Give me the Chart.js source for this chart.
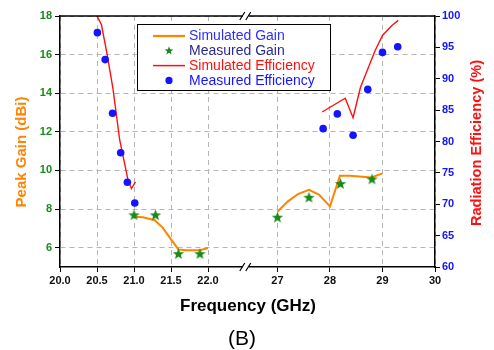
<!DOCTYPE html>
<html>
<head>
<meta charset="utf-8">
<script src="https://cdn.jsdelivr.net/npm/chart.js@4.4.1/dist/chart.umd.min.js"></script>
<style>
  body { margin: 0; background: #fff; }
  canvas { display: block; }
</style>
</head>
<body>
<canvas id="myChart" width="494" height="350"></canvas>
<script>
// x axis is broken: 20-22 GHz, then 27-30 GHz
const xTickFreqs = [20, 20.5, 21, 21.5, 22, 27, 28, 29, 30];
const xTickLabels = ["20.0", "20.5", "21.0", "21.5", "22.0", "27", "28", "29", "30"];
const gainTicks = [6, 8, 10, 12, 14, 16, 18];
const effTicks = [60, 65, 70, 75, 80, 85, 90, 95, 100];

// simulated gain (dBi)
const simGainFreqLow = [20.99, 21.12, 21.28, 21.39, 21.5, 21.6, 21.71, 21.89, 22.0];
const simGainLow = [7.6, 7.58, 7.42, 7.03, 6.43, 5.91, 5.87, 5.87, 5.98];
const simGainFreqHigh = [27.0, 27.2, 27.39, 27.6, 27.79, 28.0, 28.19, 28.38, 28.79, 29.0];
const simGainHigh = [7.86, 8.4, 8.78, 9.0, 8.75, 8.14, 9.73, 9.73, 9.64, 9.85];

// measured gain (dBi)
const measGainFreq = [21.0, 21.29, 21.6, 21.89, 27.0, 27.6, 28.2, 28.8];
const measGain = [7.7, 7.7, 5.69, 5.69, 7.58, 8.61, 9.32, 9.56];

// simulated efficiency (%)
const simEffFreqLow = [20.5, 20.56, 20.635, 20.716, 20.807, 20.92, 20.965, 21.02];
const simEffLow = [100, 98.6, 94.0, 88.4, 80.2, 73.8, 72.5, 73.55];
const simEffFreqHigh = [27.85, 28.29, 28.44, 28.58, 28.86, 29.0, 29.18, 29.3];
const simEffHigh = [84.7, 86.9, 83.8, 88.6, 94.5, 96.9, 98.5, 99.3];

// measured efficiency (%)
const measEffFreq = [20.505, 20.61, 20.71, 20.82, 20.91, 21.01, 27.87, 28.14, 28.44, 28.72, 29.0, 29.29];
const measEff = [97.35, 93.05, 84.5, 78.2, 73.5, 70.2, 82.05, 84.4, 81.0, 88.3, 94.2, 95.1];

// frequency -> position on the broken axis
const BREAK_POS = 22.51;
function toAxis(f) {
  if (f <= 22) return f;
  return 22.938 + (f - 27) * 0.7095;
}
function pts(freqs, vals) {
  return freqs.map((f, i) => ({ x: toAxis(f), y: vals[i] }));
}
function twoParts(fA, vA, fB, vB) {
  return pts(fA, vA).concat([{ x: BREAK_POS, y: null }], pts(fB, vB));
}

const ORANGE = "#ff8400";
const RED = "#ff1010";
const GREEN = "#1a8a1a";
const BLUE = "#1414ff";
const FONT = "'Liberation Sans', Arial, sans-serif";

function starPath(c, cx, cy, ro, ri) {
  c.beginPath();
  for (let i = 0; i < 10; i++) {
    const r = i % 2 ? ri : ro;
    const a = -Math.PI / 2 + i * Math.PI / 5;
    const px = cx + r * Math.cos(a), py = cy + r * Math.sin(a);
    if (i === 0) c.moveTo(px, py); else c.lineTo(px, py);
  }
  c.closePath();
}
const starImg = document.createElement("canvas");
starImg.width = 13; starImg.height = 13;
(function () {
  const c = starImg.getContext("2d");
  starPath(c, 6.5, 7, 6, 2.5);
  c.fillStyle = GREEN;
  c.fill();
})();

const extras = {
  id: "extras",
  afterDraw(chart) {
    const c = chart.ctx;
    const a = chart.chartArea;
    const bx = chart.scales.x.getPixelForValue(BREAK_POS);
    c.save();
    // top border
    c.strokeStyle = "#000";
    c.lineWidth = 1.5;
    c.beginPath();
    c.moveTo(a.left, a.top);
    c.lineTo(a.right, a.top);
    c.stroke();
    // breaks
    [a.top, a.bottom].forEach((y) => {
      c.fillStyle = "#fff";
      c.fillRect(bx - 3, y - 2, 6, 4);
      c.strokeStyle = "#000";
      c.lineWidth = 1.2;
      c.beginPath();
      c.moveTo(bx - 6, y + 4); c.lineTo(bx - 1, y - 4);
      c.moveTo(bx, y + 4); c.lineTo(bx + 5, y - 4);
      c.stroke();
    });

    // axis titles
    c.font = "bold 15px " + FONT;
    c.textAlign = "center";
    c.textBaseline = "middle";
    c.fillStyle = ORANGE;
    c.save();
    c.translate(22, 152);
    c.rotate(-Math.PI / 2);
    c.fillText("Peak Gain (dBi)", 0, 0);
    c.restore();
    c.fillStyle = RED;
    c.font = "bold 14.6px " + FONT;
    c.save();
    c.translate(477, 143);
    c.rotate(-Math.PI / 2);
    c.fillText("Radiation Efficiency (%)", 0, 0);
    c.restore();
    c.fillStyle = "#000";
    c.font = "bold 17px " + FONT;
    c.fillText("Frequency (GHz)", 248, 306);
    c.font = "21px " + FONT;
    c.fillText("(B)", 242, 339);

    // legend
    const lx = 137, ly = 24, lw = 193, lh = 66;
    c.fillStyle = "#fff";
    c.fillRect(lx, ly, lw, lh);
    c.strokeStyle = "#000";
    c.lineWidth = 1;
    c.strokeRect(lx + 0.5, ly + 0.5, lw, lh);
    const rows = [
      { text: "Simulated Gain", color: "#2e2eff", kind: "line", mark: ORANGE, w: 2.2 },
      { text: "Measured Gain", color: "#2a2a90", kind: "star" },
      { text: "Simulated Efficiency", color: RED, kind: "line", mark: RED, w: 1.5 },
      { text: "Measured Efficiency", color: BLUE, kind: "dot" }
    ];
    c.font = "14px " + FONT;
    c.textAlign = "left";
    rows.forEach((r, i) => {
      const y = 36 + i * 14.8;
      if (r.kind === "line") {
        c.strokeStyle = r.mark;
        c.lineWidth = r.w;
        c.beginPath();
        c.moveTo(153, y); c.lineTo(185, y);
        c.stroke();
      } else if (r.kind === "star") {
        starPath(c, 169, y, 4.5, 1.9);
        c.fillStyle = GREEN;
        c.fill();
      } else {
        c.beginPath();
        c.arc(169, y, 3.6, 0, Math.PI * 2);
        c.fillStyle = BLUE;
        c.fill();
      }
      c.fillStyle = r.color;
      c.fillText(r.text, 189, y + 0.5);
    });
    c.restore();
  }
};

const ctx = document.getElementById("myChart");
new Chart(ctx, {
  type: "line",
  data: {
    datasets: [
      {
        label: "Simulated Gain",
        data: twoParts(simGainFreqLow, simGainLow, simGainFreqHigh, simGainHigh),
        yAxisID: "y",
        borderColor: ORANGE,
        borderWidth: 2,
        pointRadius: 0,
        spanGaps: false,
        order: 3
      },
      {
        label: "Measured Gain",
        data: pts(measGainFreq, measGain),
        yAxisID: "y",
        showLine: false,
        pointStyle: starImg,
        order: 1
      },
      {
        label: "Simulated Efficiency",
        data: twoParts(simEffFreqLow, simEffLow, simEffFreqHigh, simEffHigh),
        yAxisID: "y2",
        borderColor: RED,
        borderWidth: 1.4,
        pointRadius: 0,
        spanGaps: false,
        order: 4
      },
      {
        label: "Measured Efficiency",
        data: pts(measEffFreq, measEff),
        yAxisID: "y2",
        showLine: false,
        pointRadius: 3.8,
        pointBackgroundColor: BLUE,
        pointBorderWidth: 0,
        order: 2
      }
    ]
  },
  options: {
    responsive: false,
    animation: false,
    layout: { padding: { top: 16, left: 0, right: 0, bottom: 0 } },
    plugins: { legend: { display: false }, tooltip: { enabled: false } },
    scales: {
      x: {
        type: "linear",
        min: 20,
        max: toAxis(30),
        afterBuildTicks: (s) => { s.ticks = xTickFreqs.map((f) => ({ value: toAxis(f) })); },
        afterFit: (s) => { s.height = 83; },
        ticks: {
          autoSkip: false,
          maxRotation: 0,
          padding: 2,
          color: "#111",
          font: { family: FONT, size: 11, weight: "bold" },
          callback: (v, i) => xTickLabels[i]
        },
        grid: { color: "#b5b5b5", tickColor: "#000", tickLength: 5, lineWidth: 1 },
        border: { color: "#000", width: 1.5, dash: [5, 4] }
      },
      y: {
        position: "left",
        min: 5,
        max: 18,
        afterBuildTicks: (s) => { s.ticks = gainTicks.map((v) => ({ value: v })); },
        afterFit: (s) => { s.width = 60; },
        ticks: {
          padding: 3,
          color: GREEN,
          font: { family: FONT, size: 11, weight: "bold" }
        },
        grid: { color: "#b5b5b5", tickColor: "#000", tickLength: 5, lineWidth: 1 },
        border: { color: "#000", width: 1.5, dash: [5, 4] }
      },
      y2: {
        position: "right",
        min: 60,
        max: 100,
        afterBuildTicks: (s) => { s.ticks = effTicks.map((v) => ({ value: v })); },
        afterFit: (s) => { s.width = 59; },
        ticks: {
          padding: 2,
          color: BLUE,
          font: { family: FONT, size: 11, weight: "bold" }
        },
        grid: { drawOnChartArea: false, tickColor: "#000", tickLength: 5 },
        border: { color: "#000", width: 1.5 }
      }
    }
  },
  plugins: [extras]
});
</script>
</body>
</html>
